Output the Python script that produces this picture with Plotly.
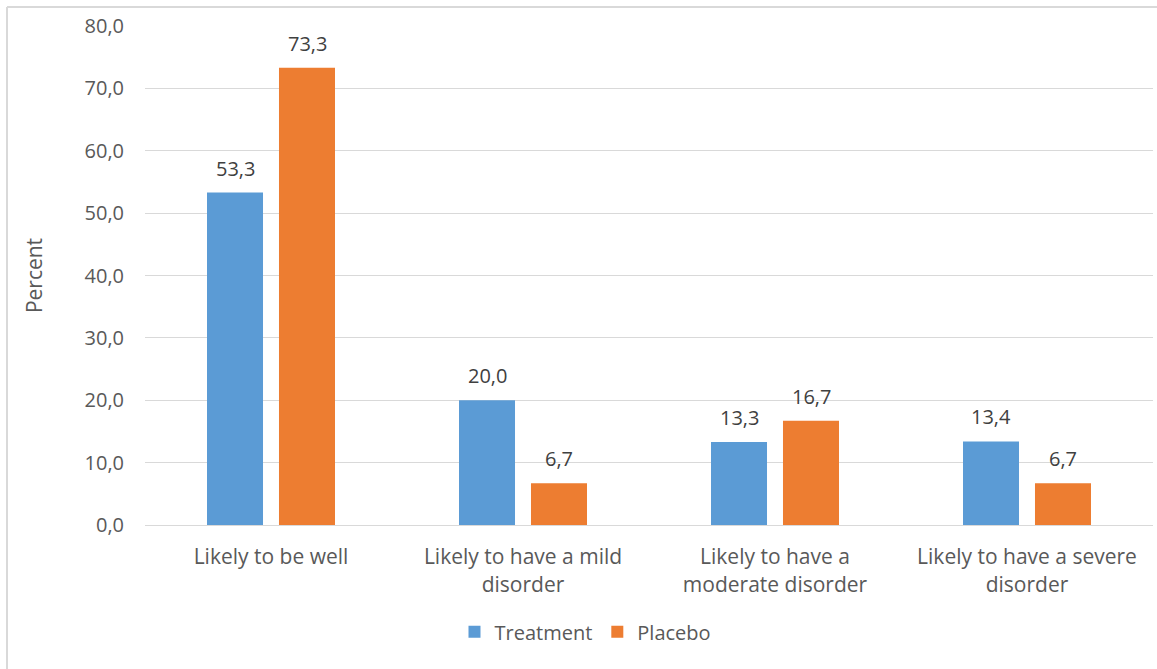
import plotly.graph_objects as go

categories = [
    "Likely to be well",
    "Likely to have a mild<br>disorder",
    "Likely to have a<br>moderate disorder",
    "Likely to have a severe<br>disorder",
]
treatment = [53.3, 20.0, 13.3, 13.4]
placebo = [73.3, 6.7, 16.7, 6.7]
y_ticks = [0, 10, 20, 30, 40, 50, 60, 70, 80]

FONT = "Open Sans"
SIZE = 21
TEXT_GREY = "#595959"
LABEL_GREY = "#404040"
GRID = "#d9d9d9"


def fmt(v):
    return f"{v:.1f}".replace(".", ",")


fig = go.Figure()
fig.add_trace(go.Bar(
    name="Treatment", x=categories, y=treatment,
    marker=dict(color="#5b9bd5", line=dict(width=0)),
))
fig.add_trace(go.Bar(
    name="Placebo", x=categories, y=placebo,
    marker=dict(color="#ed7d31", line=dict(width=0)),
))

# value labels above each bar, offset to the bar's slot within its group
annotations = []
for series, shift in ((treatment, -36), (placebo, 36)):
    for cat, v in zip(categories, series):
        annotations.append(dict(
            x=cat, y=v, xref="x", yref="y", text=fmt(v), showarrow=False,
            xshift=shift, yshift=9, yanchor="bottom", xanchor="center",
            font=dict(family=FONT, size=SIZE - 1, color=LABEL_GREY),
        ))

fig.update_layout(
    width=1157, height=669,
    margin=dict(l=145, r=4, t=26, b=144),
    paper_bgcolor="white", plot_bgcolor="white",
    separators=", ",
    barmode="group", bargap=0.4286, bargroupgap=0.222,
    font=dict(family=FONT, color=TEXT_GREY, size=SIZE),
    showlegend=True,
    legend=dict(
        orientation="h", x=0.437, xanchor="center", y=-0.214, yanchor="middle",
        font=dict(family=FONT, size=SIZE - 1, color=TEXT_GREY),
        itemwidth=30, traceorder="normal",
    ),
    xaxis=dict(
        showgrid=False, showline=True, linecolor=GRID, linewidth=1,
        ticks="", tickfont=dict(family=FONT, size=SIZE, color=TEXT_GREY),
        ticklabelstandoff=13,
    ),
    yaxis=dict(
        range=[0, 80], tickvals=y_ticks, tickformat=".1f",
        showgrid=True, gridcolor=GRID, gridwidth=1,
        zeroline=True, zerolinecolor=GRID, zerolinewidth=1,
        showline=False, ticks="",
        tickfont=dict(family=FONT, size=SIZE - 1, color=TEXT_GREY),
        ticklabelstandoff=20,
        title=dict(text="Percent", font=dict(family=FONT, size=SIZE, color=TEXT_GREY), standoff=36),
    ),
    annotations=annotations,
    shapes=[
        dict(type="line", xref="paper", yref="paper",
             x0=-0.1369, x1=1.01, y0=1.038, y1=1.038,
             line=dict(color=GRID, width=2)),
        dict(type="line", xref="paper", yref="paper",
             x0=-0.1369, x1=-0.1369, y0=1.038, y1=-0.3,
             line=dict(color=GRID, width=2)),
    ],
)

fig.write_html("out.html")
